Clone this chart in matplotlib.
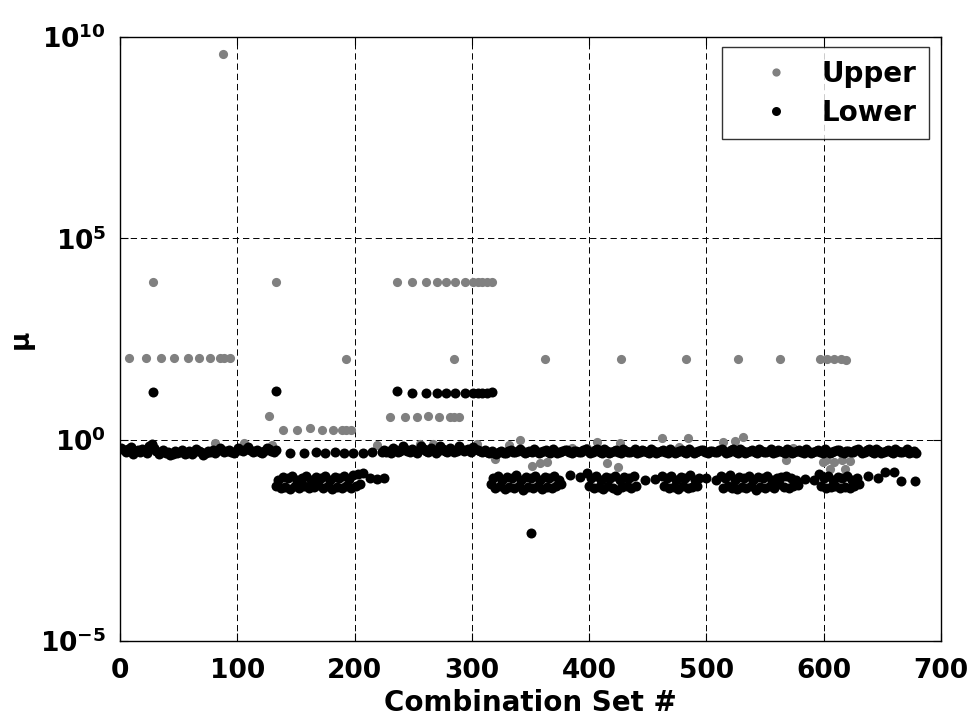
import numpy as np
import matplotlib
matplotlib.use("Agg")
import matplotlib.pyplot as plt
from matplotlib.ticker import FixedLocator, FuncFormatter, NullLocator

nan = np.nan

# ---- data (log10 of mu) ----
# Lower, main band near 1, combination sets 1, 3, 5, ... 679
lower_band_x = np.arange(1, 680, 2)
lower_band_log = [
    -0.20, -0.25, -0.30, -0.22, -0.18, -0.35, -0.28, -0.25, -0.30, -0.22,
    -0.27, -0.32, -0.15, -0.10, -0.20, -0.28, -0.35, -0.30, -0.25, -0.33,
    -0.30, -0.38, -0.35, -0.28, -0.33, -0.30, -0.25, -0.35, -0.32, -0.27,
    -0.35, -0.30, -0.22, -0.28, -0.30, -0.38, -0.33, -0.27, -0.30, -0.25,
    -0.33, -0.28, -0.20, -0.25, -0.30, -0.27, -0.25, -0.30, -0.32, -0.27,
    -0.20, -0.25, -0.28, -0.22, -0.18, -0.25, -0.30, -0.27, -0.25, -0.30,
    -0.33, -0.28, -0.20, -0.24, -0.28, -0.30, -0.25, nan, nan, nan,
    nan, nan, -0.32, nan, nan, nan, nan, nan, -0.33, nan,
    nan, nan, nan, -0.30, nan, nan, nan, -0.33, nan, nan,
    nan, -0.31, nan, nan, nan, -0.33, nan, nan, nan, -0.32,
    nan, nan, nan, -0.33, nan, nan, nan, -0.31, nan, nan,
    nan, -0.30, -0.25, -0.30, -0.28, -0.32, -0.20, -0.25, -0.30, -0.27,
    -0.15, -0.22, -0.28, -0.30, -0.22, -0.28, -0.33, -0.25, -0.15, -0.22,
    -0.27, -0.30, -0.20, -0.25, -0.32, -0.28, -0.15, -0.22, -0.28, -0.30,
    -0.20, -0.25, -0.30, -0.27, -0.15, -0.22, -0.28, -0.25, -0.22, -0.30,
    -0.17, -0.22, -0.25, -0.28, -0.30, -0.25, -0.30, -0.33, -0.28, -0.33,
    -0.35, -0.30, -0.28, -0.32, -0.32, -0.28, -0.25, -0.30, -0.30, -0.27,
    -0.22, -0.27, -0.33, -0.30, -0.27, -0.30, -0.24, -0.28, -0.32, -0.30,
    -0.27, -0.25, -0.30, -0.33, -0.23, -0.28, -0.32, -0.30, -0.28, -0.25,
    -0.25, -0.30, -0.33, -0.28, -0.27, -0.30, -0.30, -0.25, -0.22, -0.28,
    -0.32, -0.30, -0.26, -0.24, -0.30, -0.33, -0.24, -0.28, -0.33, -0.30,
    -0.28, -0.25, -0.30, -0.32, -0.22, -0.27, -0.31, -0.30, -0.27, -0.24,
    -0.33, -0.30, -0.25, -0.28, -0.30, -0.33, -0.22, -0.27, -0.32, -0.30,
    -0.28, -0.25, -0.30, -0.32, -0.24, -0.28, -0.33, -0.30, -0.27, -0.25,
    -0.30, -0.32, -0.23, -0.27, -0.32, -0.30, -0.28, -0.25, -0.25, -0.30,
    -0.33, -0.28, -0.27, -0.30, -0.30, -0.25, -0.22, -0.28, -0.32, -0.30,
    -0.26, -0.24, -0.30, -0.33, -0.24, -0.28, -0.33, -0.30, -0.28, -0.25,
    -0.30, -0.32, -0.22, -0.27, -0.31, -0.30, -0.27, -0.24, -0.33, -0.30,
    -0.25, -0.28, -0.30, -0.33, -0.22, -0.27, -0.32, -0.30, -0.28, -0.25,
    -0.30, -0.32, -0.24, -0.28, -0.33, -0.30, -0.27, -0.25, -0.30, -0.32,
    -0.23, -0.27, -0.32, -0.30, -0.28, -0.25, -0.25, -0.30, -0.33, -0.28,
    -0.27, -0.30, -0.30, -0.25, -0.22, -0.28, -0.32, -0.30, -0.26, -0.24,
    -0.30, -0.33, -0.24, -0.28, -0.33, -0.30, -0.28, -0.25, -0.30, -0.32,
    -0.22, -0.27, -0.31, -0.30, -0.27, -0.24, -0.33, -0.30, -0.28, -0.33,
]

# Lower, second band (sets 133 ... 225)
lower_low1_x = np.arange(133, 226, 2)
lower_low1_log = [
    -1.15, -1.00, -1.20, -0.92, -1.18, -0.95, -1.22, -0.90, -1.15, -1.00,
    -1.20, -0.95, -1.15, -0.90, -1.20, -1.00, -1.18, -0.92, -1.12, -0.95,
    -1.20, -0.90, -1.15, -1.00, -1.22, -0.92, -1.18, -0.95, -1.20, -0.90,
    -1.15, -0.98, -1.20, -0.88, -1.15, -0.85, -1.10, -0.83, nan, nan,
    -0.95, nan, nan, -0.97, nan, nan, -0.95,
]

# Lower, second band (sets 316 ... 680)
lower_low2_x = np.arange(316, 681, 2)
lower_low2_log = [
    -1.10, -0.95, -1.20, -0.90, -1.15, -1.00, -1.22, -0.92, -1.18, -0.95,
    -1.20, -0.88, -1.15, -1.00, -1.25, -0.92, -1.18, -0.95, -1.20, -0.90,
    -1.15, -1.00, -1.22, -0.92, -1.18, -0.95, -1.20, -0.90, -1.15, -1.00,
    -1.10, nan, nan, nan, -0.88, nan, nan, nan, -0.92, nan,
    nan, -0.82, -1.15, -0.95, -1.20, -0.90, -1.18, -1.00, -1.22, -0.92,
    -1.15, -0.95, -1.20, -0.90, -1.25, -1.00, -1.18, -0.92, -1.15, -0.95,
    -1.20, -0.90, -1.15, nan, nan, nan, -1.00, nan, nan, nan,
    -0.97, nan, nan, -0.90, -1.15, -0.95, -1.20, -0.90, -1.18, -1.00,
    -1.22, -0.92, -1.15, -0.95, -1.20, -0.88, -1.18, -1.00, -1.15, -0.95,
    nan, nan, -0.95, nan, nan, nan, -1.00, nan, -0.90, -1.20,
    -0.95, -1.15, -0.88, -1.20, -1.00, -1.22, -0.92, -1.18, -0.95, -1.20,
    -0.90, -1.15, -1.00, -1.25, -0.92, -1.18, -0.95, -1.20, -0.90, -1.15,
    -1.00, -1.20, -0.95, -1.10, -0.92, -1.18, -0.90, -1.20, -0.95, -1.15,
    -1.00, -1.12, nan, nan, -0.97, nan, nan, nan, -1.00, nan,
    -0.85, -1.15, -0.95, -1.20, -0.90, -1.18, -1.00, -1.15, -0.92, -1.20,
    -0.95, -1.18, -0.90, -1.20, -1.00, -1.15, -0.95, -1.10, nan, nan,
    nan, -0.90, nan, nan, nan, -0.95, nan, nan, -0.80, nan,
    nan, nan, -0.80, nan, nan, -1.03, nan, nan, nan, nan,
    nan, -1.03, nan,
]

# Lower, isolated points
lower_extra_x = [28, 133, 236, 249, 261, 270, 278, 286, 294, 301, 305, 309, 313, 317, 350]
lower_extra_log = [1.18, 1.21, 1.20, 1.17, 1.17, 1.17, 1.17, 1.17, 1.17, 1.17,
                   1.17, 1.17, 1.17, 1.19, -2.32]

# Upper, visible rows above the bands
upper_high_x = [88,
                28, 133, 236, 249, 261, 270, 278, 286, 294, 301, 305, 309, 313, 317,
                8, 22, 35, 46, 58, 67, 77, 85, 89, 94, 193, 285, 362, 427, 483, 527,
                563, 597, 603, 609, 615, 619,
                127, 230, 243, 253, 263, 272, 281, 285, 289,
                139, 151, 162, 172, 182, 189, 193, 197]
upper_high_log = [9.57,
                  3.91, 3.91, 3.91, 3.91, 3.91, 3.91, 3.91, 3.91, 3.91, 3.91, 3.91, 3.91, 3.91, 3.91,
                  2.02, 2.02, 2.02, 2.02, 2.02, 2.02, 2.02, 2.02, 2.02, 2.02, 2.00, 2.00, 2.00, 2.00,
                  2.00, 2.00, 2.00, 2.00, 2.00, 2.00, 2.00, 1.98,
                  0.60, 0.57, 0.57, 0.57, 0.59, 0.57, 0.57, 0.57, 0.57,
                  0.25, 0.25, 0.29, 0.25, 0.25, 0.25, 0.23, 0.23]

# Upper, points peeking out around the bands
upper_band_x = [81, 106, 130, 219, 256, 267, 304, 320, 332, 341, 351, 358, 364, 385,
                398, 407, 415, 426, 425, 462, 477, 484, 514, 524, 531, 568, 574, 599,
                602, 605, 609, 616, 618, 622]
upper_band_log = [-0.09, -0.08, -0.14, -0.12, -0.10, -0.10, -0.10, -0.47, -0.14, -0.01,
                  -0.65, -0.58, -0.55, -0.21, -0.20, -0.05, -0.58, -0.09, -0.68, 0.04,
                  -0.18, 0.05, -0.05, -0.04, 0.07, -0.51, -0.21, -0.55, -0.51, -0.72,
                  -0.55, -0.51, -0.72, -0.53]

x_ticks = [0, 100, 200, 300, 400, 500, 600, 700]
y_tick_exps = [-5, 0, 5, 10]

# ---- figure ----
plt.rcParams["mathtext.fontset"] = "dejavusans"
plt.rcParams["font.family"] = "DejaVu Sans"
plt.rcParams["font.weight"] = "bold"

fig = plt.figure(figsize=(9.71, 7.2), dpi=100)
ax = fig.add_axes([0.1236, 0.1097, 0.8455, 0.8389])

gray = "#808080"
ms_u = 6.6
ms_l = 7.2

ax.plot(upper_high_x, 10.0 ** np.array(upper_high_log), "o", color=gray, ms=ms_u, mew=0,
        linestyle="none", label="Upper", zorder=2)
ax.plot(upper_band_x, 10.0 ** np.array(upper_band_log), "o", color=gray, ms=ms_u, mew=0,
        linestyle="none", zorder=2)

ax.plot(lower_band_x, 10.0 ** np.array(lower_band_log), "o", color="black", ms=ms_l, mew=0,
        linestyle="none", label="Lower", zorder=3)
ax.plot(lower_low1_x, 10.0 ** np.array(lower_low1_log), "o", color="black", ms=ms_l, mew=0,
        linestyle="none", zorder=3)
ax.plot(lower_low2_x, 10.0 ** np.array(lower_low2_log), "o", color="black", ms=ms_l, mew=0,
        linestyle="none", zorder=3)
ax.plot(lower_extra_x, 10.0 ** np.array(lower_extra_log), "o", color="black", ms=ms_l, mew=0,
        linestyle="none", zorder=3)

ax.set_yscale("log")
ax.set_xlim(0, 700)
ax.set_ylim(1e-5, 1e10)
ax.xaxis.set_major_locator(FixedLocator(x_ticks))
ax.yaxis.set_major_locator(FixedLocator([10.0 ** e for e in y_tick_exps]))
ax.yaxis.set_minor_locator(NullLocator())
ax.yaxis.set_major_formatter(
    FuncFormatter(lambda v, p: r"$\mathbf{10^{%d}}$" % int(round(np.log10(v)))))

ax.tick_params(which="both", direction="in", top=True, right=True, length=6,
               width=0.8, labelsize=19, pad=12)
ax.tick_params(axis="y", pad=10)
for sp in ax.spines.values():
    sp.set_linewidth(1.0)

ax.grid(True, which="major", color="black", linewidth=0.7, linestyle=(0, (6.5, 4)))
ax.set_axisbelow(True)

ax.set_xlabel("Combination Set #", fontsize=20, fontweight="bold", labelpad=4)
ax.set_ylabel("μ", fontsize=19, fontweight="bold")
ax.yaxis.set_label_coords(-0.105, 0.5)

leg = ax.legend(loc="upper right", bbox_to_anchor=(0.9854, 0.9834), borderaxespad=0,
                fontsize=20, frameon=True, fancybox=False, edgecolor="black",
                handlelength=3.0, handletextpad=0.15, borderpad=0.45, labelspacing=0.4,
                numpoints=1, markerscale=0.9)
leg.get_frame().set_linewidth(1.0)
for t in leg.get_texts():
    t.set_fontweight("bold")

plt.savefig("out.png", dpi=100)
